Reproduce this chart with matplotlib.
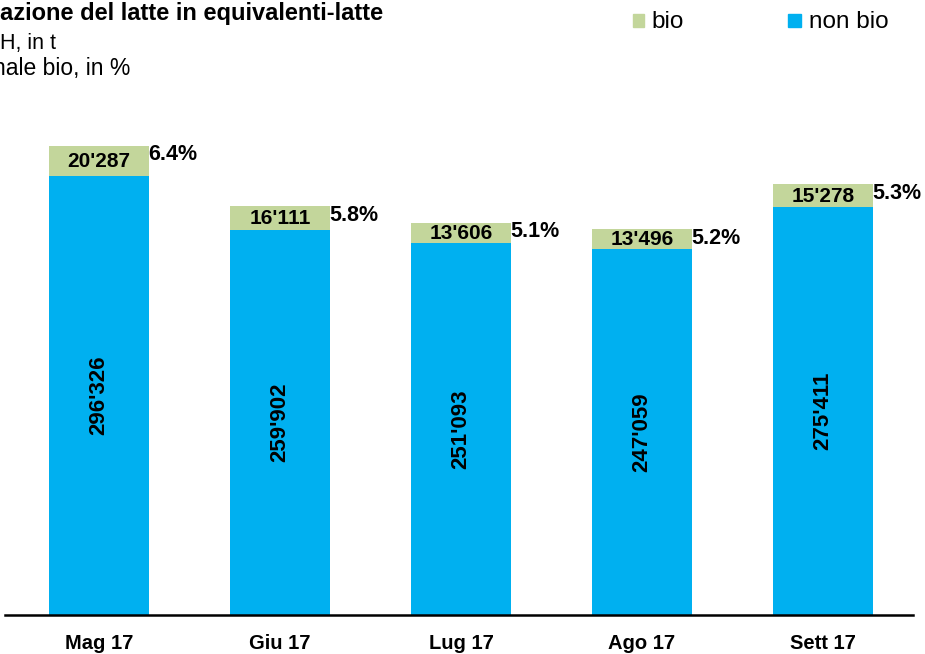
import numpy as np
import matplotlib.pyplot as plt

plt.rcParams['font.family'] = ['Liberation Sans', 'DejaVu Sans']

# Milk processing, monthly, tonnes
mesi = ['Mag 17', 'Giu 17', 'Lug 17', 'Ago 17', 'Sett 17']
non_bio = [296326, 259902, 251093, 247059, 275411]
bio = [20287, 16111, 13606, 13496, 15278]
quota_bio = [6.4, 5.8, 5.1, 5.2, 5.3]

def fmt(v):
    return f"{v:,}".replace(",", "'")

W, H = 925, 654
fig = plt.figure(figsize=(W / 100, H / 100), dpi=100)
# axes placed in pixel terms: x 5..913, y 615 (baseline) .. 100
ax = fig.add_axes([5 / W, (H - 615) / H, (913 - 5) / W, (615 - 100) / H])

scale = 296326 / 439.0
ax.set_ylim(0, (615 - 100) * scale)
ax.set_xlim(-0.519, 4.497)

x = np.arange(len(mesi))
w = 0.55
blu = '#00B0F0'
verde = '#C3D69B'
ax.bar(x, non_bio, w, color=blu, label='non bio')
ax.bar(x, bio, w, bottom=non_bio, color=verde, label='bio')

for i in range(len(mesi)):
    tot = non_bio[i] + bio[i]
    ax.text(x[i], non_bio[i] / 2, fmt(non_bio[i]), rotation=90, ha='center',
            va='center', fontsize=16, fontweight='bold')
    ax.text(x[i], non_bio[i] + bio[i] / 2 - 500, fmt(bio[i]), ha='center',
            va='center', fontsize=15, fontweight='bold')
    ax.text(x[i] + w / 2 - 0.005, tot + 1000, f"{quota_bio[i]}%", ha='left',
            va='top', fontsize=15.5, fontweight='bold')

ax.set_xticks(x)
ax.set_xticklabels(mesi, fontsize=14.5, fontweight='bold')
ax.tick_params(axis='x', length=0, pad=14)
ax.set_yticks([])
for s in ['top', 'right', 'left']:
    ax.spines[s].set_visible(False)
ax.spines['bottom'].set_linewidth(1.8)

# headings (partially off the left edge)
fig.text(0 / W, 1 - 20 / H, 'azione del latte in equivalenti-latte',
         fontsize=17, fontweight='bold', ha='left', va='baseline')
fig.text(0 / W, 1 - 49 / H, 'H, in t', fontsize=15.5, ha='left',
         va='baseline')
fig.text(-7 / W, 1 - 75 / H, 'nale bio, in %', fontsize=16.5, ha='left',
         va='baseline')

# legend
fig.patches.append(plt.Rectangle((633 / W, 1 - 27 / H), 11 / W, 13 / H,
                                 color=verde, transform=fig.transFigure))
fig.text(651 / W, 1 - 28 / H, 'bio', fontsize=17.5, ha='left',
         va='baseline')
fig.patches.append(plt.Rectangle((788 / W, 1 - 27 / H), 13 / W, 13 / H,
                                 color=blu, transform=fig.transFigure))
fig.text(809 / W, 1 - 28 / H, 'non bio', fontsize=17.5, ha='left',
         va='baseline')

fig.savefig('out.png', dpi=100)
